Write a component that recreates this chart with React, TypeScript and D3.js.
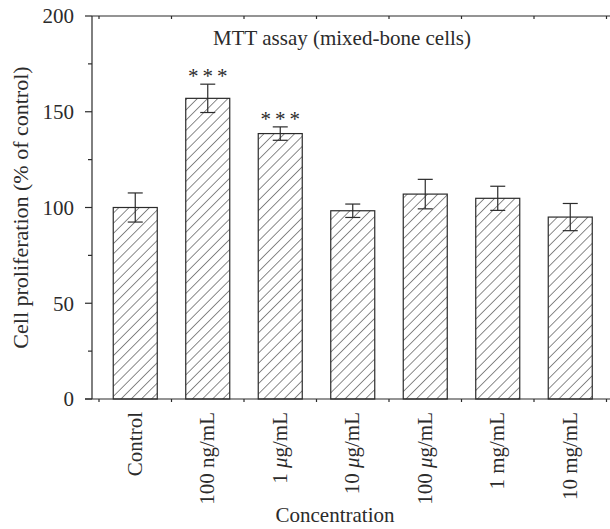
import React from "react";
import * as d3 from "d3";

// data
const categories = ["Control", "100 ng/mL", "1 μg/mL", "10 μg/mL", "100 μg/mL", "1 mg/mL", "10 mg/mL"];
const means = [100, 157, 138.6, 98.3, 107, 104.8, 95];
const errors = [7.6, 7.4, 3.5, 3.5, 7.7, 6.3, 7.1];
const stars = ["", "***", "***", "", "", "", ""];
const yTicks = [0, 50, 100, 150, 200];
const yMinorTicks = [25, 75, 125, 175];

const W = 610;
const H = 529;
const FONT = "'Liberation Serif', 'Times New Roman', serif";
const INK = "#2b2b2b";

// splits "1 μg/mL" so that μ can be set in italics
function renderLabel(label: string) {
  const parts = label.split("μ");
  if (parts.length === 1) return label;
  return (
    <>
      {parts[0]}
      <tspan fontStyle="italic">μ</tspan>
      {parts[1]}
    </>
  );
}

export default function App() {
  const y = d3.scaleLinear().domain([0, 200]).range([399, 16]);
  const x = d3
    .scaleBand<string>()
    .domain(categories)
    .range([99, 606.5])
    .paddingInner(0.393)
    .paddingOuter(0.1965);

  const step = x.step();
  const start = x.range()[0];
  const boundaries = d3.range(categories.length + 1).map((i) => start + i * step);
  const bw = x.bandwidth();
  const capHalf = 7.5;
  const axisX = 92;

  return (
    <svg width={W} height={H} style={{ position: "absolute", left: 0, top: 0 }} fontFamily={FONT}>
      <defs>
        <pattern id="hatch" patternUnits="userSpaceOnUse" width={7.2} height={7.2} patternTransform="rotate(45)">
          <line x1={0} y1={0} x2={0} y2={7.2} stroke={INK} strokeWidth={1.1} />
        </pattern>
      </defs>
      <rect x={0} y={0} width={W} height={H} fill="#fff" />

      {/* bars */}
      {categories.map((c, i) => (
        <rect
          key={c}
          x={x(c)}
          y={y(means[i])}
          width={bw}
          height={y(0) - y(means[i])}
          fill="url(#hatch)"
          stroke={INK}
          strokeWidth={1.2}
        />
      ))}

      {/* error bars */}
      {categories.map((c, i) => {
        const cx = (x(c) as number) + bw / 2;
        const hi = y(means[i] + errors[i]);
        const lo = y(means[i] - errors[i]);
        return (
          <g key={c} stroke={INK} strokeWidth={1.2}>
            <line x1={cx} x2={cx} y1={hi} y2={lo} />
            <line x1={cx - capHalf} x2={cx + capHalf} y1={hi} y2={hi} />
            <line x1={cx - capHalf} x2={cx + capHalf} y1={lo} y2={lo} />
          </g>
        );
      })}

      {/* significance */}
      {categories.map((c, i) =>
        stars[i] ? (
          <text
            key={c}
            x={(x(c) as number) + bw / 2 + 2}
            y={y(means[i] + errors[i]) - 12 + 11}
            textAnchor="middle"
            fontSize={21}
            letterSpacing={4}
            fill={INK}
          >
            {stars[i]}
          </text>
        ) : null
      )}

      {/* axes */}
      <g stroke={INK} strokeWidth={1.2}>
        <line x1={axisX} x2={axisX} y1={y(200)} y2={y(0)} />
        <line x1={85} x2={W} y1={y(0)} y2={y(0)} />
        <line x1={axisX} x2={W} y1={y(200)} y2={y(200)} />
        {yTicks.map((t) => (
          <line key={t} x1={85} x2={axisX} y1={y(t)} y2={y(t)} />
        ))}
        {yMinorTicks.map((t) => (
          <line key={t} x1={88} x2={axisX} y1={y(t)} y2={y(t)} />
        ))}
        {boundaries.map((b, i) => (
          <g key={i}>
            <line x1={b} x2={b} y1={y(0)} y2={y(0) + 3} />
            <line x1={b} x2={b} y1={y(200)} y2={y(200) + 3} />
          </g>
        ))}
      </g>

      {yTicks.map((t) => (
        <text key={t} x={74} y={y(t)} dy="0.35em" textAnchor="end" fontSize={21} fill={INK}>
          {t}
        </text>
      ))}

      {categories.map((c) => (
        <text
          key={c}
          transform={`translate(${(x(c) as number) + bw / 2 + 6.5},412) rotate(-90)`}
          textAnchor="end"
          fontSize={21}
          fill={INK}
        >
          {renderLabel(c)}
        </text>
      ))}

      <text x={342} y={45} textAnchor="middle" fontSize={21} fill={INK}>
        MTT assay (mixed-bone cells)
      </text>
      <text transform={`translate(28,${(y(0) + y(200)) / 2}) rotate(-90)`} textAnchor="middle" fontSize={22} fill={INK}>
        Cell proliferation (% of control)
      </text>
      <text x={335} y={522} textAnchor="middle" fontSize={21} fill={INK}>
        Concentration
      </text>
    </svg>
  );
}
